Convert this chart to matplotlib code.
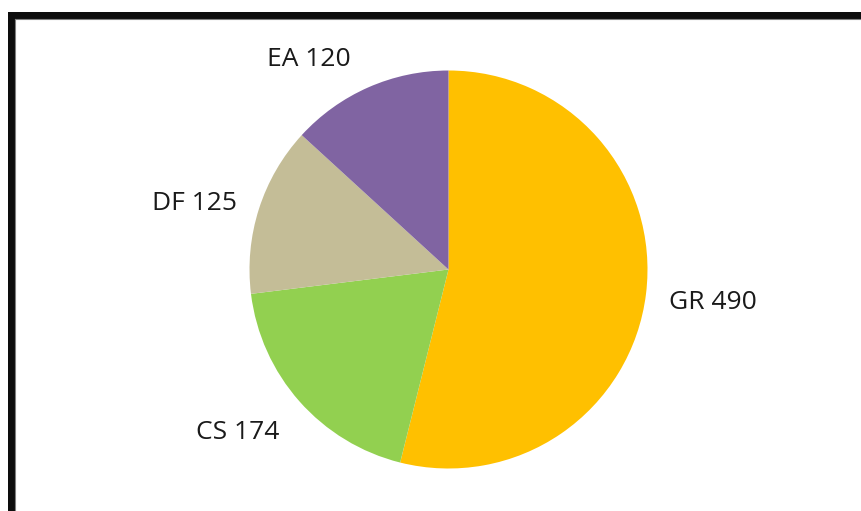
import matplotlib
matplotlib.use("Agg")
import matplotlib.pyplot as plt
from matplotlib.patches import Rectangle

categories = ["GR", "CS", "DF", "EA"]
values = [490, 174, 125, 120]
colors = ["#FFC000", "#92D050", "#C4BD97", "#8064A2"]
# label anchor positions in pixel coords (x centre, baseline y from top)
label_pos = [(713, 309), (237.5, 439), (194, 210), (309, 66)]

W, H = 861, 511
fig = plt.figure(figsize=(W / 100, H / 100), dpi=100)
ax = fig.add_axes([0, 0, 1, 1])

cx, cy, r = 448.5, H - 269.5, 199
ax.pie(values, colors=colors, startangle=90, counterclock=False,
       center=(cx, cy), radius=r, frame=False,
       wedgeprops=dict(linewidth=0))
ax.set_xlim(0, W)
ax.set_ylim(0, H)
ax.set_aspect("equal")
ax.axis("off")

for cat, v, (x, y) in zip(categories, values, label_pos):
    ax.text(x, H - y, f"{cat} {v}", ha="center", va="baseline",
            fontsize=19, family=["Open Sans", "DejaVu Sans"], color="#1a1a1a")

# frame
ax.add_patch(Rectangle((10.5, -50), W + 100, H - 14.5 + 50, fill=False,
                       edgecolor="#0d0d0d", linewidth=7 * 72 / 100, clip_on=False))
ax.plot([14.5, 14.5], [-10, H - 18.5], color="#808080", lw=0.8)
ax.plot([14.5, W + 10], [H - 18.5, H - 18.5], color="#808080", lw=0.8)

fig.savefig("out.png", dpi=100)
